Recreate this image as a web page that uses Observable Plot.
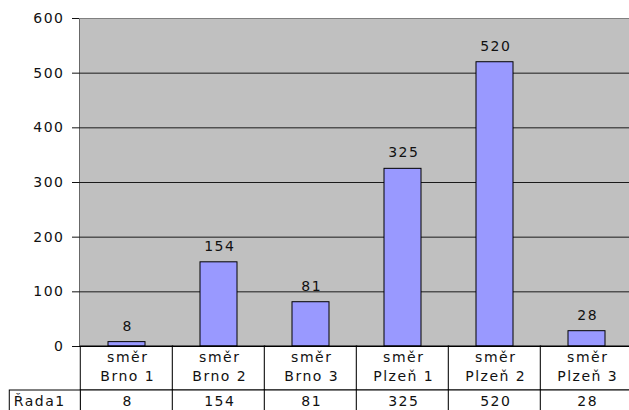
<!DOCTYPE html>
<html><head><meta charset="utf-8">
<script src="https://cdn.jsdelivr.net/npm/d3@7"></script>
<script src="https://cdn.jsdelivr.net/npm/@observablehq/plot@0.6"></script>
<style>html,body{margin:0;padding:0;background:#fff}svg{display:block}</style>
</head><body><div id="chart"></div>
<script>
const categories = ["směr\nBrno 1", "směr\nBrno 2", "směr\nBrno 3", "směr\nPlzeň 1", "směr\nPlzeň 2", "směr\nPlzeň 3"];
const values = [8, 154, 81, 325, 520, 28];
const yTicks = [0, 100, 200, 300, 400, 500, 600];
const gridTicks = [100, 200, 300, 400, 500];
const topTick = [600];
const seriesName = "Řada1";

const data = categories.map((c, i) => ({cat: c, value: values[i]}));

const W = 629, H = 410, mLeft = 79, mTop = 18, mBottom = 64;
const rangeX = [mLeft, 633.4];
const step = (rangeX[1] - rangeX[0]) / categories.length;
const padIn = 0.6;
const bw = step * (1 - padIn);
const half = (step - bw) / 2;
const row1 = 44, row2 = 30, headLeft = 8;
const ls = 1.5;
const font = "'DejaVu Sans', Verdana, sans-serif";

const plot = Plot.plot({
  width: W, height: H,
  marginLeft: mLeft, marginRight: 0, marginTop: mTop, marginBottom: mBottom,
  style: {fontFamily: font, fontSize: "14px", letterSpacing: ls + "px", background: "#fff", color: "#111"},
  x: {domain: categories, range: rangeX, paddingInner: padIn, paddingOuter: padIn / 2, axis: null},
  y: {domain: [0, 600], ticks: yTicks, tickSize: 7, tickPadding: 8, tickFormat: d => String(d), label: null, line: true},
  marks: [
    Plot.frame({fill: "#c0c0c0", stroke: null}),
    Plot.ruleY(gridTicks, {stroke: "#1a1a1a"}),
    Plot.ruleY(topTick, {stroke: "#808080"}),
    Plot.barY(data, {x: "cat", y: "value", fill: "#9999ff", stroke: "#000", strokeWidth: 1}),
    Plot.text(data, {x: "cat", y: "value", text: d => String(d.value), dy: -16, dx: ls / 2, fontSize: 14, fill: "#111"}),
    // data table: category row
    Plot.barY(data, {x: "cat", y1: () => 0, y2: () => 0, insetLeft: -half, insetRight: -half, insetTop: 0, insetBottom: -row1, fill: "#fff", stroke: "#000"}),
    // data table: values row
    Plot.barY(data, {x: "cat", y1: () => 0, y2: () => 0, insetLeft: -half, insetRight: -half, insetTop: row1, insetBottom: -(row1 + row2), fill: "#fff", stroke: "#000"}),
    // series header cell
    Plot.barY([data[0]], {x: "cat", y1: () => 0, y2: () => 0, insetLeft: -(half + mLeft - headLeft), insetRight: bw + half, insetTop: row1, insetBottom: -(row1 + row2), fill: "#fff", stroke: "#000"}),
    Plot.ruleY([0], {stroke: "#000"}),
    Plot.text(data, {x: "cat", y: () => 0, text: "cat", dy: 3, dx: ls / 2, lineAnchor: "top", lineHeight: 1.3, fontSize: 14, fill: "#111"}),
    Plot.text(data, {x: "cat", y: () => 0, text: d => String(d.value), dy: row1 + 11, dx: ls / 2, fontSize: 14, fill: "#111"}),
    Plot.text([seriesName], {x: () => categories[0], y: () => 0, text: d => d, textAnchor: "start", dx: headLeft + 4 - (mLeft + step / 2), dy: row1 + 11, fontSize: 14, fill: "#111"})
  ]
});
document.getElementById("chart").appendChild(plot);
</script>
</body></html>
